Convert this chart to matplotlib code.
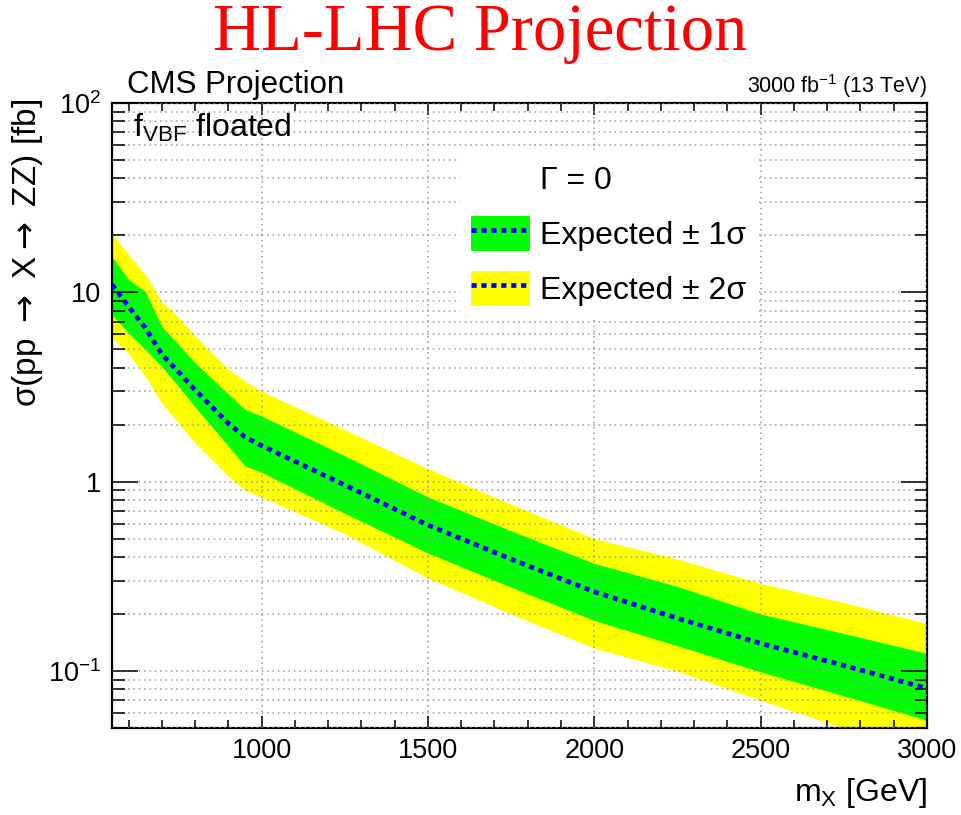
import numpy as np
import matplotlib
matplotlib.use("Agg")
import matplotlib.pyplot as plt
from matplotlib.patches import Patch
from matplotlib.lines import Line2D
from matplotlib.legend_handler import HandlerTuple
from matplotlib.ticker import FixedLocator, FixedFormatter, MultipleLocator

plt.rcParams['font.family'] = ['Liberation Sans', 'DejaVu Sans']
plt.rcParams['mathtext.fontset'] = 'custom'
plt.rcParams['mathtext.rm'] = 'Liberation Sans'
plt.rcParams['mathtext.it'] = 'Liberation Sans:italic'
plt.rcParams['mathtext.bf'] = 'Liberation Sans:bold'

# Expected limits on sigma(pp -> X -> ZZ) [fb] vs resonance mass [GeV]
mass = [550, 600, 650, 700, 750, 800, 900, 950, 1000, 1250, 1500,
        1750, 2000, 2250, 2500, 2750, 3000]
expected = [11.0, 8.4, 6.5, 4.7, 3.8, 3.05, 2.03, 1.72, 1.55, 0.96, 0.59,
            0.39, 0.262, 0.19, 0.14, 0.107, 0.081]
plus1 = [15.4, 11.7, 10.1, 6.6, 5.3, 4.25, 2.9, 2.41, 2.22, 1.37, 0.83,
         0.55, 0.37, 0.28, 0.20, 0.158, 0.124]
minus1 = [7.6, 6.1, 5.0, 4.05, 3.18, 2.48, 1.54, 1.21, 1.12, 0.68, 0.42,
          0.277, 0.185, 0.136, 0.099, 0.074, 0.055]
plus2 = [20.6, 15.8, 12.4, 8.9, 7.4, 5.9, 3.92, 3.4, 3.0, 1.88, 1.17,
         0.76, 0.50, 0.39, 0.29, 0.23, 0.178]
minus2 = [5.75, 4.75, 3.6, 2.6, 2.04, 1.6, 1.07, 0.9, 0.83, 0.53, 0.31,
          0.20, 0.132, 0.10, 0.070, 0.050, 0.038]

ytick_vals = [0.1, 1, 10, 100]
ytick_text = [r'$10^{-1}$', '1', '10', r'$10^{2}$']
xtick_vals = [1000, 1500, 2000, 2500, 3000]

fig = plt.figure(figsize=(9.61, 8.15), dpi=100)
ax = fig.add_axes([0.1165, 0.1067, 0.848, 0.767])

ax.fill_between(mass, minus2, plus2, color=(1, 1, 0), lw=0, zorder=1)
ax.fill_between(mass, minus1, plus1, color=(0, 1, 0), lw=0, zorder=1.1)
ax.plot(mass, expected, color=(0, 0, 1), lw=3.4, ls=(0, (1.1, 1.0)), zorder=3)

ax.set_yscale('log')
ax.set_xlim(550, 3000)
ax.set_ylim(0.05, 100)

ax.xaxis.set_major_locator(FixedLocator(xtick_vals))
ax.xaxis.set_minor_locator(MultipleLocator(100))
ax.yaxis.set_major_locator(FixedLocator(ytick_vals))
ax.yaxis.set_major_formatter(FixedFormatter(ytick_text))
ax.yaxis.set_minor_formatter(FixedFormatter([]))

ax.tick_params(which='both', direction='in', top=True, right=True,
               labelsize=19.5, width=1.1)
ax.tick_params(axis='x', which='major', length=8.6, pad=7)
ax.tick_params(axis='x', which='minor', length=5.5)
ax.tick_params(axis='y', which='major', length=19, pad=8)
ax.tick_params(axis='y', which='minor', length=9)
for sp in ax.spines.values():
    sp.set_linewidth(1.6)

ax.set_axisbelow(False)
ax.grid(True, which='major', axis='x', color='0.6', ls=(0, (1, 2.5)), lw=1.1)
ax.grid(True, which='both', axis='y', color='0.6', ls=(0, (1, 2.5)), lw=1.1)

# legend: header line then the two bands with the median line on top
blank = Patch(facecolor='none', edgecolor='none')
h1 = (Patch(facecolor=(0, 1, 0), edgecolor='none'),
      Line2D([], [], color=(0, 0, 1), lw=3.4, ls=(0, (1.1, 1.0))))
h2 = (Patch(facecolor=(1, 1, 0), edgecolor='none'),
      Line2D([], [], color=(0, 0, 1), lw=3.4, ls=(0, (1.1, 1.0))))
leg = ax.legend([blank, h1, h2],
                ['Γ = 0', 'Expected ± 1σ', 'Expected ± 2σ'],
                handler_map={tuple: HandlerTuple(ndivide=1, pad=0)},
                loc='upper left', bbox_to_anchor=(460 / 961, 1 - 150 / 815),
                bbox_transform=fig.transFigure, fontsize=23,
                frameon=True, fancybox=False, framealpha=1,
                edgecolor='none', facecolor='white',
                handlelength=1.85, handleheight=1.3, handletextpad=0.3,
                labelspacing=0.62, borderpad=0.35, borderaxespad=0)
leg.set_zorder(10)

fig.text(0.5, 1 - 33 / 815, 'HL-LHC Projection', color='red', fontsize=48,
         family='Liberation Serif', ha='center', va='center')
fig.text(127 / 961, 1 - 93 / 815, 'CMS Projection', fontsize=22.5,
         ha='left', va='baseline')
fig.text(927 / 961, 1 - 93 / 815, r'3000 fb$^{-1}$ (13 TeV)', fontsize=15.5,
         ha='right', va='baseline')
fig.text(133 / 961, 1 - 137 / 815, r'f$_{\mathrm{VBF}}$ floated', fontsize=23,
         ha='left', va='baseline')
fig.text(28 / 961, 1 - 99 / 815, r'σ(pp $\rightarrow$ X$\rightarrow$ ZZ) [fb]',
         fontsize=24, math_fontfamily='dejavusans',
         rotation=90, ha='center', va='top')
fig.text(927 / 961, 1 - 793 / 815, r'm$_{\mathrm{X}}$ [GeV]', fontsize=23,
         ha='right', va='center')

fig.savefig('out.png', dpi=100)
